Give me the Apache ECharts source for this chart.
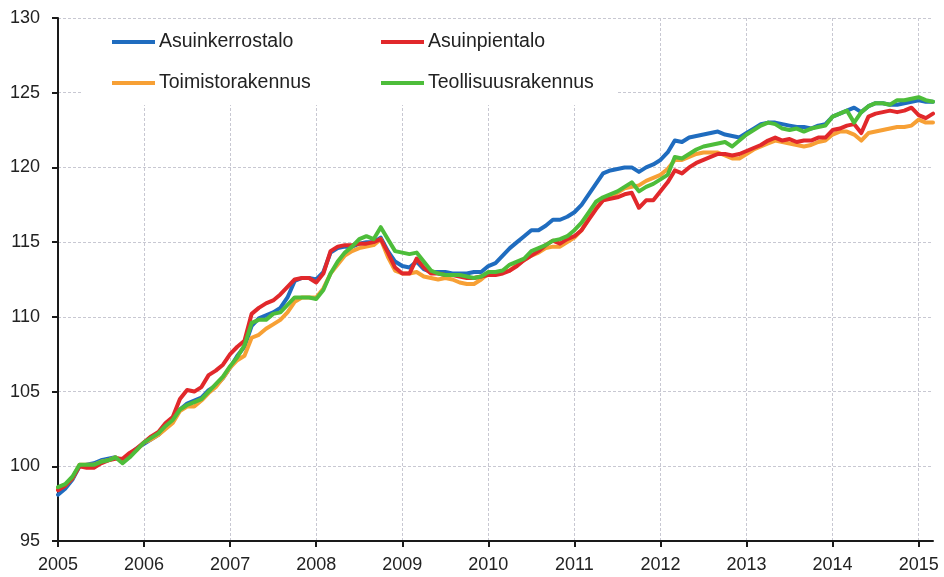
<!DOCTYPE html>
<html>
<head>
<meta charset="utf-8">
<script src="https://cdn.jsdelivr.net/npm/echarts@6/dist/echarts.min.js"></script>
<style>
html,body{margin:0;padding:0;background:#fff;}
#chart{width:944px;height:577px;}
</style>
</head>
<body>
<div id="chart"></div>
<script>
// Tick labels / categories
var yearLabels = ['2005','2006','2007','2008','2009','2010','2011','2012','2013','2014','2015'];
var monthCount = 123; // Jan 2005 .. Mar 2015
var categories = [];
for (var k = 0; k < monthCount; k++) {
  var yy = 2005 + Math.floor(k / 12);
  var mm = (k % 12) + 1;
  categories.push(yy + '-' + (mm < 10 ? '0' + mm : mm));
}

var seriesNames = ['Asuinkerrostalo', 'Asuinpientalo', 'Toimistorakennus', 'Teollisuusrakennus'];

var asuinkerrostalo = [
  98.1, 98.5, 99.1,100.0,100.1,100.2,100.4,100.5,100.6,100.4,100.8,101.2,
 101.5,101.8,102.1,102.6,103.0,103.8,104.2,104.4,104.6,105.1,105.4,105.9,
 106.6,107.4,108.0,109.4,109.9,110.1,110.3,110.6,111.3,112.4,112.6,112.6,
 112.5,113.0,114.3,114.6,114.7,114.7,114.9,115.0,115.0,115.3,114.4,113.7,
 113.4,113.3,113.7,113.2,113.0,113.0,113.0,112.9,112.9,112.9,113.0,113.0,
 113.4,113.6,114.1,114.6,115.0,115.4,115.8,115.8,116.1,116.5,116.5,116.7,
 117.0,117.5,118.2,118.9,119.6,119.8,119.9,120.0,120.0,119.7,120.0,120.2,
 120.5,121.0,121.8,121.7,122.0,122.1,122.2,122.3,122.4,122.2,122.1,122.0,
 122.3,122.6,122.9,123.0,123.0,122.9,122.8,122.7,122.7,122.6,122.8,122.9,
 123.4,123.6,123.8,124.0,123.7,124.1,124.3,124.3,124.2,124.2,124.3,124.4,
 124.5,124.4,124.4
];
var asuinpientalo = [
  98.4, 98.7, 99.2,100.0, 99.9, 99.9,100.2,100.4,100.5,100.5,100.9,101.2,
 101.6,102.0,102.3,102.9,103.3,104.5,105.1,105.0,105.3,106.1,106.4,106.8,
 107.5,108.0,108.4,110.2,110.6,110.9,111.1,111.5,112.0,112.5,112.6,112.6,
 112.3,112.9,114.4,114.7,114.8,114.8,114.9,114.9,115.0,115.2,114.3,113.3,
 112.9,112.9,113.9,113.3,112.9,112.9,112.8,112.8,112.7,112.6,112.6,112.7,
 112.8,112.8,112.9,113.1,113.4,113.8,114.1,114.4,114.8,115.1,114.9,115.2,
 115.4,115.8,116.5,117.2,117.8,117.9,118.0,118.2,118.3,117.3,117.8,117.8,
 118.4,119.0,119.8,119.6,120.0,120.3,120.5,120.7,120.9,120.9,120.8,120.9,
 121.1,121.3,121.5,121.8,122.0,121.8,121.9,121.7,121.8,121.8,122.0,122.0,
 122.5,122.6,122.8,122.9,122.3,123.4,123.6,123.7,123.8,123.7,123.8,124.0,
 123.5,123.3,123.6
];
var toimistorakennus = [
  98.5, 98.7, 99.2,100.1,100.1,100.1,100.3,100.4,100.6,100.4,100.7,101.1,
 101.6,101.8,102.1,102.5,102.9,103.7,104.0,104.0,104.4,104.9,105.3,105.9,
 106.6,107.1,107.4,108.6,108.8,109.2,109.5,109.8,110.3,111.0,111.3,111.3,
 111.3,111.9,112.9,113.5,114.1,114.4,114.6,114.7,114.8,115.2,114.0,113.1,
 112.9,112.9,113.0,112.7,112.6,112.5,112.6,112.5,112.3,112.2,112.2,112.5,
 112.9,112.9,113.0,113.1,113.5,113.8,114.1,114.3,114.6,114.7,114.7,115.0,
 115.3,115.8,116.6,117.3,117.8,118.0,118.3,118.6,118.7,118.8,119.1,119.3,
 119.5,119.9,120.5,120.5,120.7,120.9,121.0,121.0,121.0,120.8,120.6,120.6,
 120.9,121.2,121.4,121.6,121.8,121.7,121.6,121.5,121.4,121.5,121.7,121.8,
 122.2,122.4,122.4,122.2,121.8,122.3,122.4,122.5,122.6,122.7,122.7,122.8,
 123.2,123.0,123.0
];
var teollisuusrakennus = [
  98.6, 98.8, 99.3,100.1,100.1,100.1,100.3,100.4,100.6,100.2,100.6,101.1,
 101.6,101.9,102.2,102.7,103.1,103.8,104.1,104.3,104.5,105.0,105.5,106.0,
 106.7,107.3,108.1,109.6,109.8,109.8,110.2,110.3,110.8,111.3,111.3,111.3,
 111.2,111.8,112.9,113.7,114.3,114.7,115.2,115.4,115.2,116.0,115.2,114.4,
 114.3,114.2,114.3,113.7,113.1,112.9,112.8,112.8,112.8,112.7,112.6,112.7,
 113.0,113.0,113.1,113.5,113.7,113.9,114.4,114.6,114.8,115.1,115.2,115.4,
 115.8,116.3,117.0,117.7,118.0,118.2,118.4,118.7,119.0,118.4,118.7,118.9,
 119.2,119.5,120.7,120.6,120.9,121.2,121.4,121.5,121.6,121.7,121.4,121.8,
 122.2,122.5,122.8,123.0,122.9,122.6,122.5,122.6,122.4,122.6,122.7,122.8,
 123.4,123.6,123.8,123.0,123.7,124.1,124.3,124.3,124.2,124.5,124.5,124.6,
 124.7,124.5,124.4
];

var colors = {
  'Asuinkerrostalo': '#1f6cbf',
  'Asuinpientalo': '#e1282b',
  'Toimistorakennus': '#f7a035',
  'Teollisuusrakennus': '#4dbd3a'
};

var FONT = 'Liberation Sans, Arial, sans-serif';
var chart = echarts.init(document.getElementById('chart'), null, {renderer: 'canvas'});

function legendAt(name, left, top) {
  return {
    data: [name], left: left, top: top, padding: 0, z: 10,
    icon: 'rect', itemWidth: 43, itemHeight: 4, itemGap: 0,
    selectedMode: false,
    textStyle: {fontFamily: FONT, fontSize: 19.5, color: '#222', lineHeight: 22, padding: [0,0,0,-1]}
  };
}

function lineSeries(name, data, z) {
  return {
    name: name, type: 'line', data: data, symbol: 'none', smooth: false, z: z,
    lineStyle: {color: colors[name], width: 4, join: 'round', cap: 'round'},
    itemStyle: {color: colors[name]},
    emphasis: {disabled: true}, animation: false
  };
}

var yearTick = function (index) { return index % 12 === 0; };

var option = {
  animation: false,
  backgroundColor: '#ffffff',
  grid: {left: 58, right: 11, top: 18, bottom: 36, containLabel: false},
  legend: [
    legendAt('Asuinkerrostalo', 112, 31),
    legendAt('Asuinpientalo', 381, 31),
    legendAt('Toimistorakennus', 112, 72),
    legendAt('Teollisuusrakennus', 381, 72)
  ],
  graphic: [{
    type: 'rect', z: 3, silent: true,
    shape: {x: 82, y: 19, width: 536, height: 86},
    style: {fill: '#ffffff'}
  }],
  xAxis: {
    type: 'category', data: categories, boundaryGap: false,
    axisLine: {show: true, lineStyle: {color: '#1a1a1a', width: 2}},
    axisTick: {show: true, interval: yearTick, length: 6, lineStyle: {color: '#1a1a1a', width: 2}},
    axisLabel: {
      interval: yearTick, margin: 15, color: '#222', fontFamily: FONT, fontSize: 18,
      formatter: function (v) { var y = v.slice(0, 4); return yearLabels.indexOf(y) >= 0 ? y : ''; }
    },
    splitLine: {show: true, interval: yearTick, lineStyle: {color: '#c8c8d2', width: 1, type: [3, 2]}}
  },
  yAxis: {
    type: 'value', min: 95, max: 130, interval: 5,
    axisLine: {show: true, lineStyle: {color: '#1a1a1a', width: 2}},
    axisTick: {show: true, length: 6, lineStyle: {color: '#1a1a1a', width: 2}},
    axisLabel: {margin: 18, color: '#222', fontFamily: FONT, fontSize: 18},
    splitLine: {show: true, lineStyle: {color: '#c8c8d2', width: 1, type: [3, 2]}}
  },
  series: [
    lineSeries('Asuinkerrostalo', asuinkerrostalo, 2),
    lineSeries('Toimistorakennus', toimistorakennus, 3),
    lineSeries('Asuinpientalo', asuinpientalo, 4),
    lineSeries('Teollisuusrakennus', teollisuusrakennus, 5)
  ]
};
chart.setOption(option);
</script>
</body>
</html>
